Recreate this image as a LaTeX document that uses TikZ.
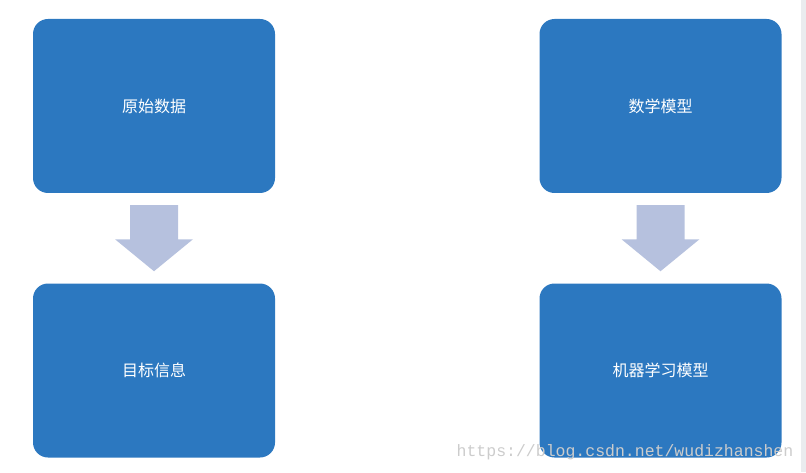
\documentclass[tikz,border=0pt]{standalone}
\usepackage{fontspec}
\newfontfamily\cjk{Noto Sans CJK SC}
\setmonofont{Liberation Mono}
\usetikzlibrary{calc}
\definecolor{boxblue}{RGB}{44,120,192}
\definecolor{arrowgray}{RGB}{182,193,222}
\definecolor{markgray}{RGB}{204,204,204}
\definecolor{edgegray}{RGB}{234,236,239}

\begin{document}
\begin{tikzpicture}[line cap=round,line join=round,x=1pt,y=1pt,
		box/.style={fill=boxblue,rounded corners=15pt,minimum width=242pt,minimum height=174pt,inner sep=0pt,text=white,font=\cjk\fontsize{16}{16}\selectfont},
		bigarrow/.style={fill=arrowgray}]
		\useasboundingbox (0,0) rectangle (806,472);
		\fill [edgegray] (801,0) rectangle (806,472);
		% left column
		\node [box] (yuanshi) at (154,366) {原始数据};
		\node [box] (mubiao) at (154,101.5) {目标信息};
		% right column
		\node [box] (shuxue) at (660.5,366) {数学模型};
		\node [box] (jiqi) at (660.5,101.5) {机器学习模型};
		% block arrows
		\coordinate (a1) at ($(yuanshi.south)!0.5!(mubiao.north)$);
		\coordinate (a2) at ($(shuxue.south)!0.5!(jiqi.north)$);
		\foreach \a in {a1,a2}
		\fill [bigarrow] ($(\a)+(-24,33)$) -- ($(\a)+(24,33)$) -- ($(\a)+(24,-1)$) -- ($(\a)+(39,-1)$)
			-- ($(\a)+(0,-33)$) -- ($(\a)+(-39,-1)$) -- ($(\a)+(-24,-1)$) -- cycle;
		% watermark
		\node [text=markgray,font=\ttfamily\fontsize{16.5}{16}\selectfont,inner sep=0pt] (mark) at (625,20) {https://blog.csdn.net/wudizhanshen};
	\end{tikzpicture}
\end{document}
